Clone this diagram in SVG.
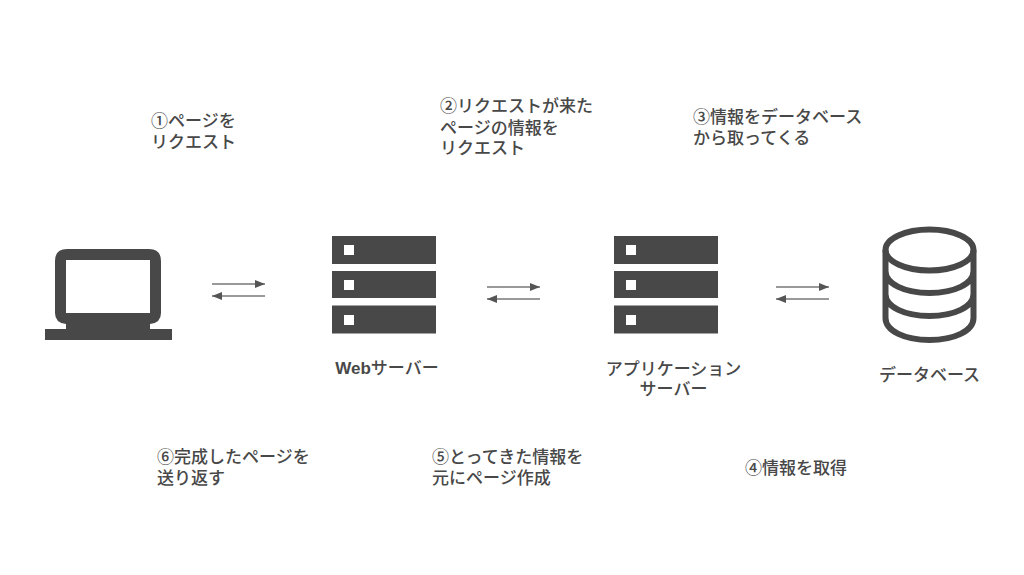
<svg xmlns="http://www.w3.org/2000/svg" width="1024" height="575" viewBox="0 0 1024 575">
<style>
text{font-family:"Liberation Sans","Noto Sans CJK JP",sans-serif;font-size:17px;font-weight:500;fill:#484848}
.c{text-anchor:middle}
.l{font-weight:700}
.b{fill:#484848}
.w{fill:#fff}
.a{stroke:#777;stroke-width:1.3;fill:none}
.db{fill:none;stroke:#484848;stroke-width:6}
</style>
<defs>
<marker id="h" markerUnits="userSpaceOnUse" markerWidth="11" markerHeight="8" refX="10" refY="4" orient="auto-start-reverse"><path d="M0 0L10 4L0 8Z" fill="#555"/></marker>
<g id="srv">
<rect x="0" y="0" width="104" height="28" class="b"/><rect x="12" y="9" width="10" height="10" class="w"/>
<rect x="0" y="35" width="104" height="27" class="b"/><rect x="12" y="44" width="10" height="10" class="w"/>
<rect x="0" y="69.500" width="104" height="28" class="b"/><rect x="12" y="79" width="10" height="10" class="w"/>
</g>
</defs>
<rect width="1024" height="575" fill="#fff"/>
<g id="connectors">
<path class="a" marker-end="url(#h)" d="M212 284H265"/>
<path class="a" marker-end="url(#h)" d="M265 296H212"/>
<path class="a" marker-end="url(#h)" d="M487 287H540"/>
<path class="a" marker-end="url(#h)" d="M540 299H487"/>
<path class="a" marker-end="url(#h)" d="M776 287H829"/>
<path class="a" marker-end="url(#h)" d="M829 299H776"/>
</g>
<g id="client">
<path class="b" fill-rule="evenodd" d="M67 249H149Q161 249 161 261V313Q161 323 150 324V329H172V340H45V329H66V324Q55 323 55 313V261Q55 249 67 249ZM66 260V313H150V260Z"/>
</g>
<g id="web-server"><use href="#srv" x="332" y="236"/><text x="387" y="374" class="c"><tspan class="l">Web</tspan>サーバー</text></g>
<g id="app-server"><use href="#srv" x="614" y="236"/><text x="673.500" y="375" class="c">アプリケーション</text><text x="673.500" y="395" class="c">サーバー</text></g>
<g id="database">
<ellipse class="db" cx="929.500" cy="250" rx="44" ry="20.500"/>
<path class="db" d="M885.500 250V318C885.500 331 905 340 929.500 340S973.500 331 973.500 318V250M885.500 271C885.500 284 905 293 929.500 293S973.500 284 973.500 271M885.500 294C885.500 307 905 316 929.500 316S973.500 307 973.500 294"/>
<text x="929.500" y="381" class="c">データベース</text>
</g>
<g id="labels">
<text x="151" y="127">①ページを</text><text x="151" y="148">リクエスト</text>
<text x="440" y="112">②リクエストが来た</text><text x="440" y="134">ページの情報を</text><text x="440" y="154">リクエスト</text>
<text x="693" y="123">③情報をデータベース</text><text x="693" y="144">から取ってくる</text>
<text x="157" y="463">⑥完成したページを</text><text x="157" y="484">送り返す</text>
<text x="432" y="463">⑤とってきた情報を</text><text x="432" y="484">元にページ作成</text>
<text x="745" y="474">④情報を取得</text>
</g>
</svg>
